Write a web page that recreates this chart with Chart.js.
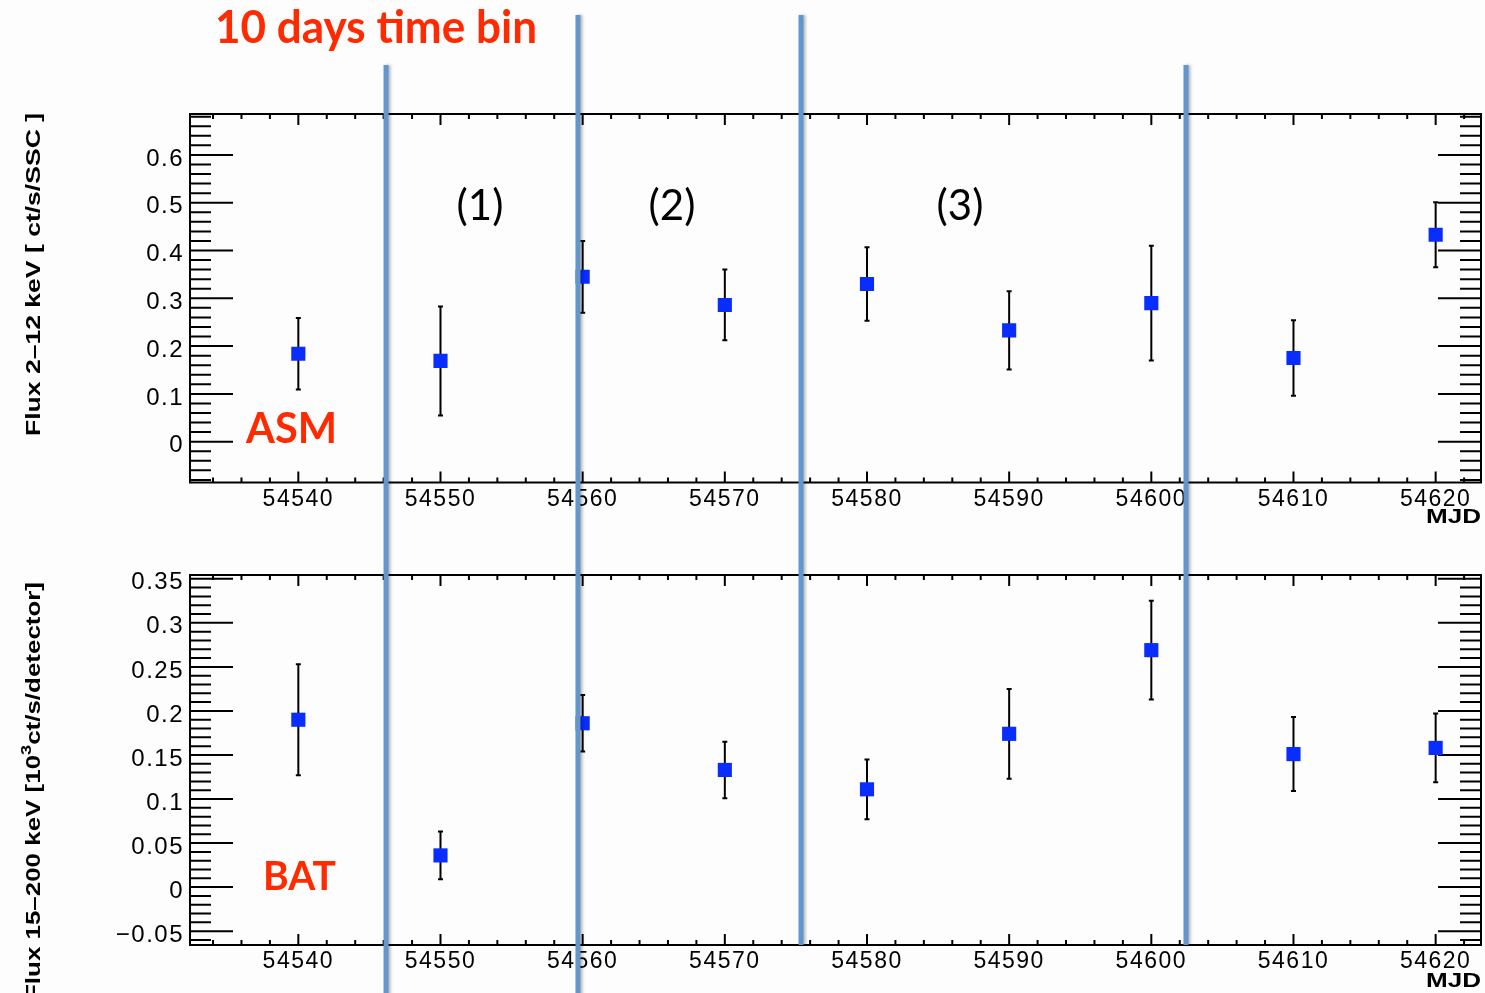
<!DOCTYPE html>
<html>
<head>
<meta charset="utf-8">
<script src="https://cdn.jsdelivr.net/npm/chart.js@4"></script>
<style>
  body { margin: 0; background: #fdfdfd; }
  #wrap { position: relative; width: 1485px; height: 993px; overflow: hidden; }
  canvas { position: absolute; left: 0; }
  #asm { top: 0; }
  #bat { top: 535px; }
</style>
</head>
<body>
<div id="wrap">
  <canvas id="asm" width="1485" height="535"></canvas>
  <canvas id="bat" width="1485" height="458"></canvas>
</div>
<script>
const mjd = [54540, 54550, 54560, 54570, 54580, 54590, 54600, 54610, 54620];
const asmFlux = [0.184, 0.169, 0.345, 0.286, 0.330, 0.233, 0.290, 0.175, 0.433];
const asmErr  = [0.075, 0.114, 0.075, 0.074, 0.077, 0.082, 0.120, 0.079, 0.068];
const batFlux = [0.190, 0.036, 0.186, 0.133, 0.111, 0.174, 0.269, 0.151, 0.158];
const batErr  = [0.063, 0.027, 0.032, 0.032, 0.034, 0.051, 0.056, 0.042, 0.039];
const xTicks = [54540, 54550, 54560, 54570, 54580, 54590, 54600, 54610, 54620];
const asmTicks = [0, 0.1, 0.2, 0.3, 0.4, 0.5, 0.6];
const batTicks = [-0.05, 0, 0.05, 0.1, 0.15, 0.2, 0.25, 0.3, 0.35];
// period boundaries (MJD)
const binEdges = [54546.17, 54559.67, 54575.36, 54602.44];
const periodLabels = ['(1)', '(2)', '(3)'];

const FONT = '"Liberation Sans", Arial, sans-serif';
const CAL = 'Lato, "Open Sans", sans-serif';
const RED = '#ff2a00';
const BLUE_LINE = '#6396cc';

// where each separator line starts / ends (page px)
const lineTop = [65, 15, 15, 65];
const lineBottom = [1000, 1000, 945, 945];

function minorTicks(ctx, scale, a, step, every, majLen, minLen, vertical) {
  const k0 = Math.ceil(scale.min / step - 1e-6), k1 = Math.floor(scale.max / step + 1e-6);
  ctx.beginPath();
  for (let k = k0; k <= k1; k++) {
    const p = scale.getPixelForValue(k * step);
    const len = (((k % every) + every) % every === 0) ? majLen : minLen;
    if (vertical) {
      ctx.moveTo(a.left, p); ctx.lineTo(a.left + len, p);
      ctx.moveTo(a.right, p); ctx.lineTo(a.right - len, p);
    } else {
      ctx.moveTo(p, a.bottom); ctx.lineTo(p, a.bottom - len);
      ctx.moveTo(p, a.top); ctx.lineTo(p, a.top + len);
    }
  }
  ctx.stroke();
}

// rotated axis title; yEnd is where the text ends (top), stretched to len px
function yTitle(ctx, parts, x, yEnd, len) {
  ctx.save();
  ctx.fillStyle = '#000';
  ctx.textAlign = 'left';
  ctx.textBaseline = 'alphabetic';
  let w = 0;
  const widths = parts.map(p => {
    ctx.font = (p.sup ? 'bold 14px ' : 'bold 20px ') + FONT;
    const m = ctx.measureText(p.t).width;
    w += m;
    return m;
  });
  ctx.translate(x, yEnd);
  ctx.rotate(-Math.PI / 2);
  ctx.scale(len / w, 1);
  let pos = -w;
  parts.forEach((p, i) => {
    ctx.font = (p.sup ? 'bold 14px ' : 'bold 20px ') + FONT;
    ctx.fillText(p.t, pos, p.sup ? -9 : 0);
    pos += widths[i];
  });
  ctx.restore();
}

function panelPlugin(o) {
  return {
    id: 'panel',
    beforeDraw(chart) {
      chart.ctx.letterSpacing = '1.5px';
    },
    beforeDatasetsDraw(chart) {
      const {ctx, chartArea: a, scales: {x, y}} = chart;
      ctx.save();
      ctx.strokeStyle = '#000';
      ctx.lineWidth = 2;
      ctx.beginPath();
      o.values.forEach((v, i) => {
        const px = x.getPixelForValue(mjd[i]);
        const y1 = y.getPixelForValue(v - o.errors[i]);
        const y2 = y.getPixelForValue(v + o.errors[i]);
        ctx.moveTo(px, y1); ctx.lineTo(px, y2);
        ctx.moveTo(px - 2.5, y1); ctx.lineTo(px + 2.5, y1);
        ctx.moveTo(px - 2.5, y2); ctx.lineTo(px + 2.5, y2);
      });
      ctx.stroke();
      minorTicks(ctx, y, a, o.yMinor, 5, 43, 21, true);
      minorTicks(ctx, x, a, 2, 5, 11, 5, false);
      ctx.strokeRect(a.left, a.top, a.width, a.height);
      ctx.restore();
    },
    afterDraw(chart) {
      const {ctx, scales: {x}} = chart;
      const off = o.offset;
      ctx.save();
      ctx.letterSpacing = '0px';
      // separator lines
      ctx.strokeStyle = BLUE_LINE;
      ctx.lineWidth = 5;
      ctx.shadowColor = 'rgba(0,0,0,0.28)';
      ctx.shadowOffsetX = 2;
      ctx.shadowBlur = 3;
      binEdges.forEach((e, i) => {
        const px = x.getPixelForValue(e);
        const t = Math.max(lineTop[i] - off, -10);
        const b = Math.min(lineBottom[i] - off, chart.height + 10);
        if (b > t) {
          ctx.beginPath(); ctx.moveTo(px, t); ctx.lineTo(px, b); ctx.stroke();
        }
      });
      ctx.restore();

      ctx.save();
      ctx.letterSpacing = '0px';
      ctx.translate(0, -off);
      o.texts(ctx);
      // MJD axis title
      ctx.fillStyle = '#000';
      ctx.font = 'bold 21px ' + FONT;
      ctx.textAlign = 'right';
      ctx.textBaseline = 'alphabetic';
      const mw = ctx.measureText('MJD').width;
      ctx.translate(1481, o.mjdY);
      ctx.scale(55 / mw, 1);
      ctx.fillText('MJD', 0, 0);
      ctx.restore();
    }
  };
}

function makeChart(id, values, yTicks, yMin, yMax, padTop, xHeight, o) {
  return new Chart(document.getElementById(id), {
    type: 'scatter',
    data: {
      datasets: [{
        data: mjd.map((m, i) => ({x: m, y: values[i]})),
        pointStyle: 'rect',
        pointRadius: 10,
        pointBorderWidth: 0,
        backgroundColor: '#0a2dff',
        borderColor: '#0a2dff'
      }]
    },
    options: {
      responsive: false,
      animation: false,
      events: [],
      layout: {autoPadding: false, padding: {top: padTop, right: 4, left: 0, bottom: 0}},
      plugins: {legend: {display: false}, tooltip: {enabled: false}},
      scales: {
        x: {
          type: 'linear',
          min: 54532.38,
          max: 54623.19,
          afterBuildTicks: s => { s.ticks = xTicks.map(v => ({value: v})); },
          afterFit: s => { s.height = xHeight; },
          grid: {display: false, drawTicks: false},
          border: {display: false},
          ticks: {
            font: {size: 23, family: FONT}, color: '#000', padding: 3,
            maxRotation: 0, autoSkip: false, callback: v => String(v)
          }
        },
        y: {
          min: yMin,
          max: yMax,
          afterBuildTicks: s => { s.ticks = yTicks.map(v => ({value: v})); },
          afterFit: s => { s.width = 190; },
          grid: {display: false, drawTicks: false},
          border: {display: false},
          ticks: {
            font: {size: 24, family: FONT}, color: '#000', padding: 6, labelOffset: 4,
            autoSkip: false,
            callback: v => v < 0 ? '\u2212' + String(-v) : String(v)
          }
        }
      }
    },
    plugins: [panelPlugin(o)]
  });
}

makeChart('asm', asmFlux, asmTicks, -0.0854, 0.6856, 114, 52.5, {
  values: asmFlux, errors: asmErr, yMinor: 0.02, offset: 0, mjdY: 523,
  texts(ctx) {
    ctx.fillStyle = RED;
    ctx.textAlign = 'left';
    ctx.font = 'bold 45px ' + CAL;
    ctx.fillText('10 days time bin', 215, 43, 322);
    ctx.font = 'bold 42px ' + CAL;
    ctx.fillText('ASM', 246, 443, 91);
    ctx.fillStyle = '#000';
    ctx.font = '42px ' + CAL;
    ctx.textAlign = 'center';
    [480, 672, 960].forEach((cx, i) => ctx.fillText(periodLabels[i], cx, 220));
    yTitle(ctx, [{t: 'Flux 2\u201312 keV [ ct/s/SSC ]'}], 40, 113, 323);
  }
});

makeChart('bat', batFlux, batTicks, -0.0657, 0.3543, 40, 48, {
  values: batFlux, errors: batErr, yMinor: 0.01, offset: 535, mjdY: 987,
  texts(ctx) {
    ctx.fillStyle = RED;
    ctx.font = 'bold 40px ' + CAL;
    ctx.textAlign = 'left';
    ctx.fillText('BAT', 263, 890, 73);
    yTitle(ctx, [{t: 'Flux 15\u2013200 keV [10'}, {t: '3', sup: true}, {t: 'ct/s/detector]'}], 40, 582, 418);
  }
});
</script>
</body>
</html>
